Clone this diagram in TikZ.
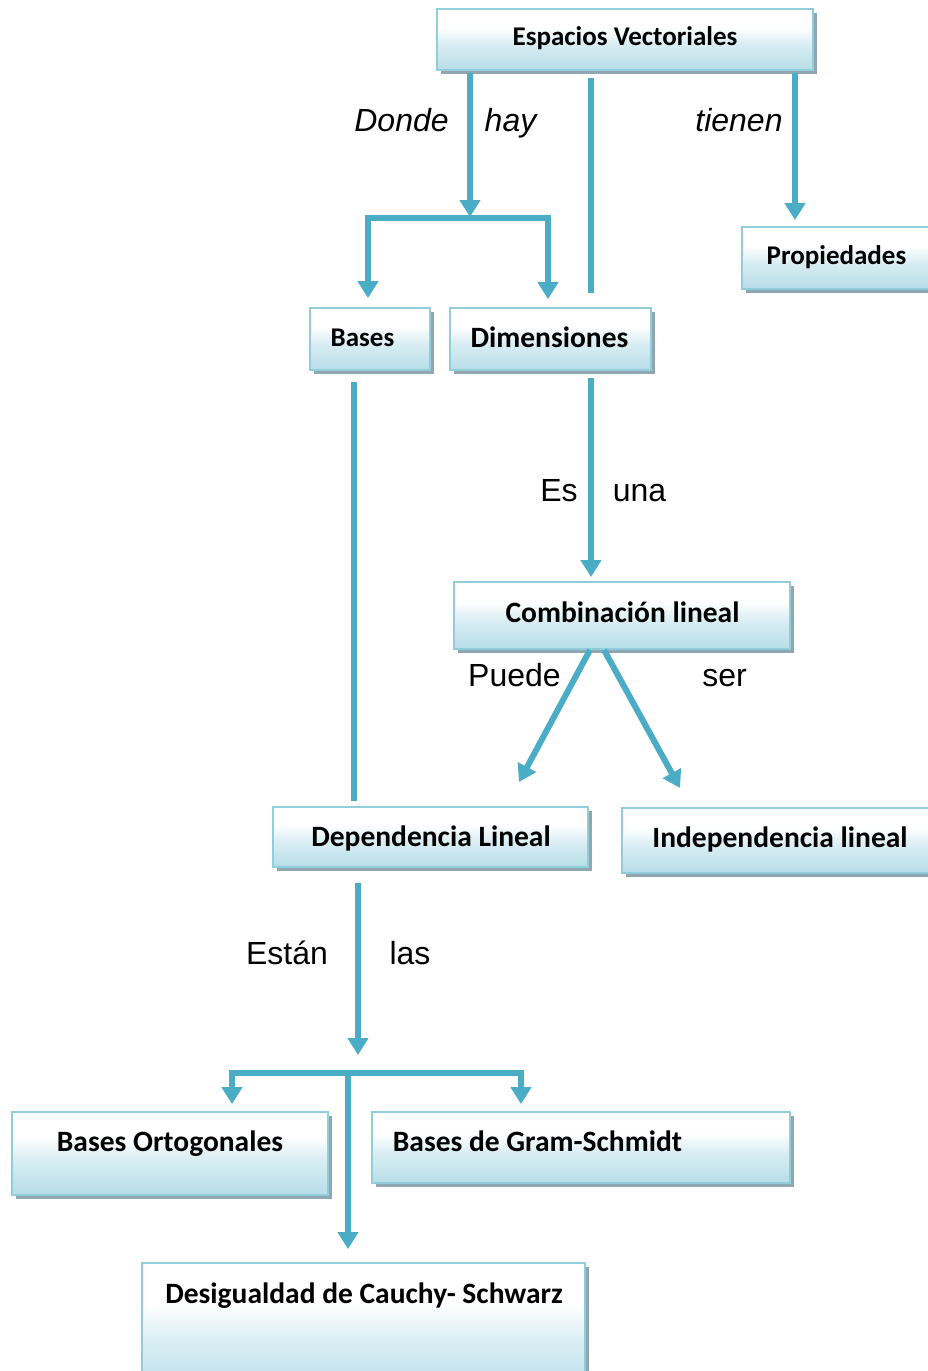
\documentclass[tikz,border=0pt]{standalone}
\usepackage{fontspec}
\setmainfont{Liberation Sans}
\newfontfamily\boxfont{Carlito}
\usetikzlibrary{shadows,arrows.meta,calc}
\definecolor{arrowblue}{HTML}{4BACC6}
\definecolor{boxedge}{HTML}{92CDDC}
\definecolor{boxblue}{HTML}{B6DDE8}
\colorlet{boxmid}{boxblue!50!white}
\definecolor{shadowgray}{HTML}{8FA7B1}
\pgfdeclareverticalshading{vboxshade}{100bp}{color(0bp)=(boxblue); color(25bp)=(boxblue); color(47bp)=(boxmid); color(60bp)=(white); color(100bp)=(white)}
\tikzset{
  vbox/.style={draw=boxedge, line width=1.8pt, shading=vboxshade, inner sep=0pt,
    drop shadow={shadow xshift=4pt, shadow yshift=-4pt, fill=shadowgray, opacity=1}},
  btxt/.style={font=\boxfont\bfseries\fontsize{29.5}{34}\selectfont, anchor=base, inner sep=0pt},
  stxt/.style={font=\boxfont\bfseries\fontsize{27}{32}\selectfont, anchor=base, inner sep=0pt},
  lbl/.style={font=\fontsize{32}{38}\selectfont, anchor=base, inner sep=0pt},
  conn/.style={draw=arrowblue, line width=6pt, line join=miter},
  arr/.style={conn, -{Triangle[length=17pt,width=20pt]}}
}
\begin{document}
\begin{tikzpicture}[x=1pt, y=-1pt]
\clip (0,0) rectangle (928,1371);
\useasboundingbox (0,0) rectangle (928,1371);

% boxes
\node[vbox, minimum width=376pt, minimum height=61pt] (ev) at (625,39.5) {};
\node[vbox, minimum width=208pt, minimum height=62pt] (pr) at (846,258) {};
\node[vbox, minimum width=120pt, minimum height=62pt] (ba) at (370,339) {};
\node[vbox, minimum width=201pt, minimum height=62pt] (di) at (550.5,339) {};
\node[vbox, minimum width=336pt, minimum height=67pt] (cl) at (622,615.5) {};
\node[vbox, minimum width=315pt, minimum height=60pt] (dl) at (430.5,837) {};
\node[vbox, minimum width=328pt, minimum height=65pt] (il) at (786,840.5) {};
\node[vbox, minimum width=316pt, minimum height=83pt] (bo) at (170,1153.5) {};
\node[vbox, minimum width=418pt, minimum height=71pt] (gs) at (581,1147.5) {};
\node[vbox, minimum width=443pt, minimum height=137pt] (dc) at (363.5,1331.5) {};

% box texts
\node[stxt] (ev-t) at (625,45.5) {Espacios Vectoriales};
\node[stxt] (pr-t) at (836.5,264) {Propiedades};
\node[stxt] (ba-t) at (362.5,346) {Bases};
\node[btxt] (di-t) at (549.5,347.5) {Dimensiones};
\node[btxt] (cl-t) at (622.5,622.5) {Combinación lineal};
\node[btxt] (dl-t) at (431,846.5) {Dependencia Lineal};
\node[btxt] (il-t) at (780,847.5) {Independencia lineal};
\node[btxt] (bo-t) at (170,1151.5) {Bases Ortogonales};
\node[btxt] (gs-t) at (537.5,1151.5) {Bases de Gram-Schmidt};
\node[btxt] (dc-t) at (364,1303.5) {Desigualdad de Cauchy- Schwarz};

% connector labels
\node[lbl] (l-donde) at (401.5,131) {\itshape Donde};
\node[lbl] (l-hay) at (510.5,131) {\itshape hay};
\node[lbl] (l-tienen) at (739,131) {\itshape tienen};
\node[lbl] (l-es) at (559,501) {Es};
\node[lbl] (l-una) at (639.5,501) {una};
\node[lbl] (l-puede) at (514.5,686) {Puede};
\node[lbl] (l-ser) at (724.5,686) {ser};
\node[lbl] (l-estan) at (287,964) {Están};
\node[lbl] (l-las) at (410,964) {las};

% junctions
\coordinate (j1) at (470,217);
\coordinate (j2) at (368,218);
\coordinate (j3) at (548,218);
\coordinate (k1) at (591,293);
\coordinate (t1) at (519,782);
\coordinate (t2) at (680,788);
\coordinate (j4) at (358,1055);
\coordinate (j5) at (232,1073);
\coordinate (j6) at (521,1073);
\coordinate (j7) at (348,1073);

% connectors
\draw[arr] ([xshift=-155pt,yshift=-2pt]ev.south) -- (j1);
\draw[arr, shorten >=9pt] (j3) -- (j2) -- (j2 |- ba.north);
\draw[arr, shorten >=8pt] (j2) -- (j3) -- (j3 |- di.north);
\draw[conn] ([xshift=-34pt,yshift=-7pt]ev.south) -- (k1);
\draw[arr, shorten >=6pt] ([xshift=170pt,yshift=-2pt]ev.south) -- ([xshift=170pt]ev.south |- pr.north);
\draw[conn, shorten >=5pt] ([xshift=-16pt,yshift=-11pt]ba.south) -- ([xshift=-16pt]ba.south |- dl.north);
\draw[arr, shorten >=4pt] ([xshift=40.5pt,yshift=-7pt]di.south) -- ([xshift=40.5pt]di.south |- cl.north);
\draw[arr] ([xshift=-32pt]cl.south) -- (t1);
\draw[arr] ([xshift=-18pt]cl.south) -- (t2);
\draw[arr] ([xshift=-72.5pt,yshift=-15pt]dl.south) -- (j4);
\draw[arr, shorten >=7pt] (j6) -- (j5) -- (j5 |- bo.north);
\draw[arr, shorten >=7pt] (j5) -- (j6) -- (j6 |- gs.north);
\draw[arr, shorten >=13pt] (j7) -- (j7 |- dc.north);
\end{tikzpicture}
\end{document}
